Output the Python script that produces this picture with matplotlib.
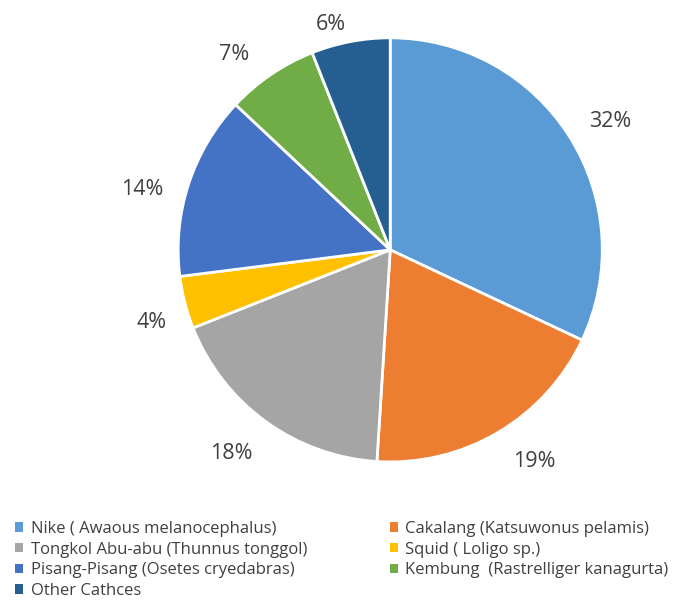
import matplotlib.pyplot as plt
from matplotlib.patches import Patch

# Datos del gráfico
categorias = ["Nike ( Awaous melanocephalus)", "Cakalang (Katsuwonus pelamis)",
              "Tongkol Abu-abu (Thunnus tonggol)", "Squid ( Loligo sp.)",
              "Pisang-Pisang (Osetes cryedabras)", "Kembung  (Rastrelliger kanagurta)",
              "Other Cathces"]
valores = [32, 19, 18, 4, 14, 7, 6]
colores = ["#5B9BD5", "#ED7D31", "#A5A5A5", "#FFC000", "#4472C4", "#70AD47", "#255E91"]

# Posición de las etiquetas (en radios, relativa al centro), como en el original
pos_etiquetas = [(1.038, 0.604), (0.679, -1.0), (-0.75, -0.958), (-1.127, -0.344),
                 (-1.17, 0.283), (-0.736, 0.92), (-0.278, 1.061)]

plt.rcParams['font.family'] = ['Open Sans', 'DejaVu Sans']

fig = plt.figure(figsize=(6.81, 6.05), dpi=100)
ax = fig.add_axes([0.573 - 0.3115, 0.587 - 0.3505, 0.623, 0.701])

wedges, textos = ax.pie(
    valores, colors=colores, startangle=90, counterclock=False,
    wedgeprops=dict(edgecolor="white", linewidth=2))
total = sum(valores)
for v, (x, y) in zip(valores, pos_etiquetas):
    ax.text(x, y, f"{100 * v / total:.0f}%", ha="center", va="center",
            fontsize=15.5, color="#404040")
ax.set_xlim(-1, 1)
ax.set_ylim(-1, 1)
ax.set_aspect("equal")

# Leyenda en dos columnas (izquierda: 0,2,4,6 ; derecha: 1,3,5)
def leyenda(idx, x):
    handles = [Patch(facecolor=colores[i], edgecolor="none") for i in idx]
    etiquetas = [categorias[i] for i in idx]
    fig.legend(handles, etiquetas, loc="upper left", bbox_to_anchor=(x, 0.139),
               frameon=False, fontsize=12, handlelength=0.5, handleheight=0.5,
               handletextpad=0.45, labelspacing=0.28, labelcolor="#404040",
               borderaxespad=0, borderpad=0)

leyenda([0, 2, 4, 6], 0.022)
leyenda([1, 3, 5], 0.572)

fig.savefig("out.png", dpi=100)
